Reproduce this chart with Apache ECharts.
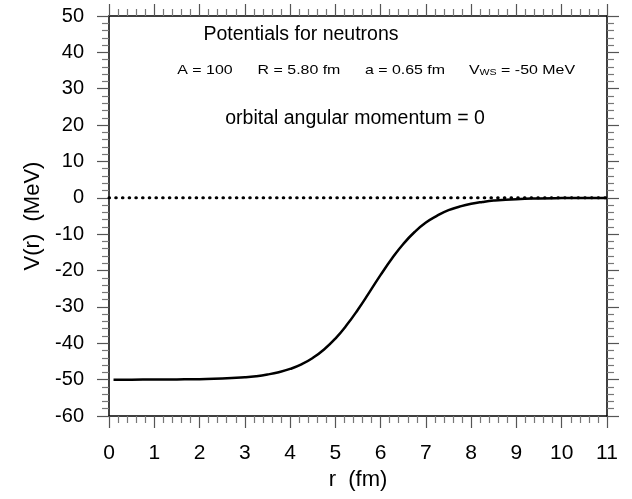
<!DOCTYPE html>
<html>
<head>
<meta charset="utf-8">
<script src="https://cdn.jsdelivr.net/npm/echarts@6/dist/echarts.min.js"></script>
<style>html,body{margin:0;padding:0;background:#fff}#c{width:632px;height:499px}</style>
</head>
<body>
<div id="c"></div>
<script>
// r (fm) sample points and potential V(r) (MeV)
var rValues = [0.1, 0.5, 1, 1.5, 2, 2.5, 3, 3.25, 3.5, 3.75, 4, 4.25, 4.5, 4.75, 5, 5.25, 5.5, 5.75, 6, 6.25, 6.5, 6.75, 7, 7.25, 7.5, 7.75, 8, 8.25, 8.5, 9, 9.5, 10, 10.5, 11];
var vValues = [-50.0, -50.0, -49.97, -49.93, -49.86, -49.7, -49.34, -49.05, -48.59, -47.95, -47.05, -45.8, -44.04, -41.7, -38.7, -35.0, -30.7, -26.0, -21.2, -16.7, -12.7, -9.4, -6.8, -4.9, -3.4, -2.4, -1.64, -1.13, -0.77, -0.36, -0.17, -0.08, -0.04, -0.02];
var zeroLineR = [0, 11];
var zeroLineV = [0, 0];
var xTicks = [0,1,2,3,4,5,6,7,8,9,10,11];
var yTicks = [-60,-50,-40,-30,-20,-10,0,10,20,30,40,50];
var paramLabels = ['A = 100', 'R = 5.80 fm', 'a = 0.65 fm', 'V{sub|WS} = -50 MeV'];

var FONT = 'Liberation Sans, Arial, Helvetica, sans-serif';
var curve = rValues.map(function(r,i){return [r, vValues[i]];});
var zero = zeroLineR.map(function(r,i){return [r, zeroLineV[i]];});

function axisCommon(){
  return {
    axisLine:{show:true, onZero:false, lineStyle:{color:'#000', width:1.5}},
    axisTick:{show:true, inside:false, length:12, lineStyle:{color:'#555', width:1.2}},
    minorTick:{show:true, splitNumber:5, length:7, lineStyle:{color:'#777', width:1.2}},
    splitLine:{show:false},
    minorSplitLine:{show:false}
  };
}
var ch = echarts.init(document.getElementById('c'));
var xBottom = Object.assign(axisCommon(), {
  type:'value', position:'bottom', min:xTicks[0], max:xTicks[xTicks.length-1], interval:1,
  name:'r  (fm)', nameLocation:'middle', nameGap:51,
  nameTextStyle:{fontFamily:FONT, fontSize:22, color:'#000'},
  axisLabel:{show:true, margin:27, fontFamily:FONT, fontSize:21, color:'#000'}
});
var xTop = Object.assign(axisCommon(), {
  type:'value', position:'top', min:xTicks[0], max:xTicks[xTicks.length-1], interval:1,
  axisLabel:{show:false}
});
var yLeft = Object.assign(axisCommon(), {
  type:'value', position:'left', min:yTicks[0], max:yTicks[yTicks.length-1], interval:10,
  name:'V(r)  (MeV)', nameLocation:'middle', nameGap:65,
  nameTextStyle:{fontFamily:FONT, fontSize:22, color:'#000'},
  axisLabel:{show:true, margin:25, fontFamily:FONT, fontSize:20, color:'#000'}
});
var yRight = Object.assign(axisCommon(), {
  type:'value', position:'right', min:yTicks[0], max:yTicks[yTicks.length-1], interval:10,
  axisLabel:{show:false}
});
var paramX = [205, 299, 405, 522];
var graphics = [
  {type:'text', x:301, y:35, style:{text:'Potentials for neutrons', font:'19.5px '+FONT, fill:'#000', align:'center', verticalAlign:'middle'}},
  {type:'text', x:355, y:119, style:{text:'orbital angular momentum = 0', font:'19.5px '+FONT, fill:'#000', align:'center', verticalAlign:'middle'}}
];
paramLabels.forEach(function(t,i){
  graphics.push({type:'text', x:paramX[i], y:70, scaleX:1.18, style:{
    text:t, font:'13.5px '+FONT, fill:'#000', align:'center', verticalAlign:'middle',
    rich:{sub:{fontSize:9, fontFamily:FONT, fill:'#000', verticalAlign:'bottom', padding:[6,0,0,0]}}
  }});
});
ch.setOption({
  animation:false,
  backgroundColor:'#fff',
  grid:{left:109, top:16, right:25, bottom:83, containLabel:false},
  xAxis:[xBottom, xTop],
  yAxis:[yLeft, yRight],
  series:[
    {type:'line', data:zero, xAxisIndex:0, yAxisIndex:0, symbol:'none',
     lineStyle:{color:'#000', width:3, type:[0.6,6.1], cap:'round'}, z:2},
    {type:'line', data:curve, xAxisIndex:0, yAxisIndex:0, symbol:'none', smooth:true,
     lineStyle:{color:'#000', width:2.5}, z:3}
  ],
  graphic:graphics
});
</script>
</body>
</html>
